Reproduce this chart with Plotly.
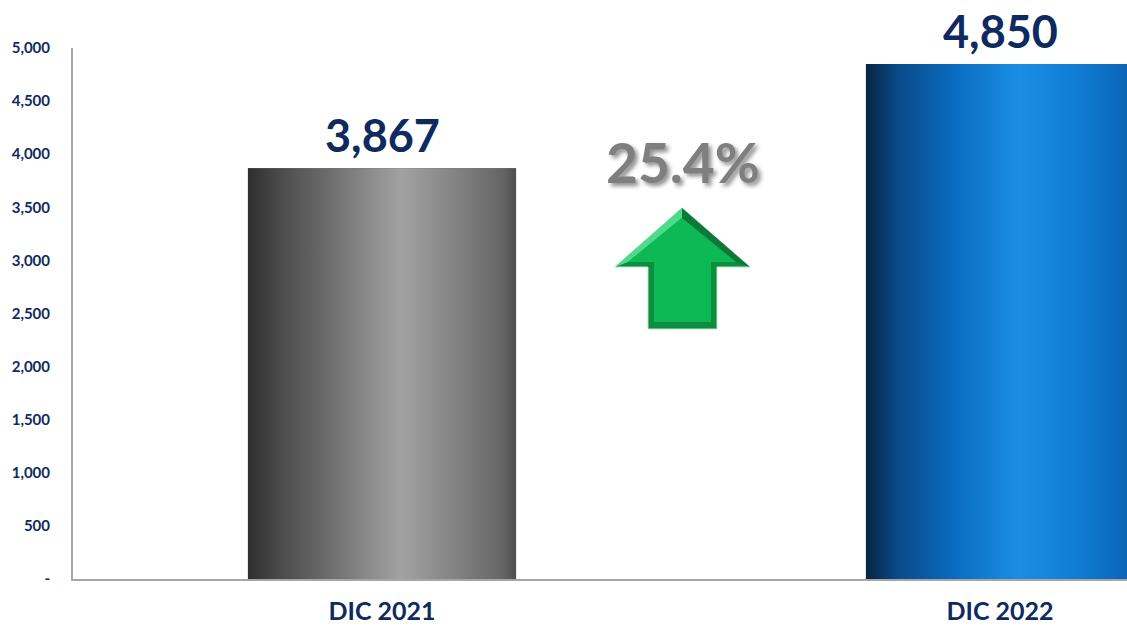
import plotly.graph_objects as go

# ---- data ----
categories = ["DIC 2021", "DIC 2022"]
values = [3867, 4850]
value_labels = ["3,867", "4,850"]
growth_label = "25.4%"
y_tickvals = [0, 500, 1000, 1500, 2000, 2500, 3000, 3500, 4000, 4500, 5000]
y_ticktext = ["-", "500", "1,000", "1,500", "2,000", "2,500", "3,000", "3,500", "4,000", "4,500", "5,000"]

# ---- style ----
W, H = 1127, 629
# plot area in window pixels: x 73..1127, y 48..579
PX0, PX1, PY0, PY1 = 73, 1127, 48, 579
ML, MT = PX0, PY0
MR = W - PX1
MB = H - PY1
NAVY = "#0f2a5f"
FONT = "Lato"
BAR_W = 0.434
x_pos = list(range(len(categories)))

grey_scale = [[0.0, "#2e2e2e"], [0.12, "#4b4b4b"], [0.35, "#767676"], [0.57, "#a2a2a2"],
              [0.78, "#828282"], [0.95, "#656565"], [1.0, "#4e4e4e"]]
blue_scale = [[0.0, "#082443"], [0.12, "#0a4a88"], [0.33, "#0a6cc0"], [0.57, "#1a8ee4"],
              [0.75, "#1180d6"], [1.0, "#0a63b4"]]
scales = [grey_scale, blue_scale]

fig = go.Figure()

# real bar trace (data carrier)
fig.add_trace(go.Bar(x=x_pos, y=values, width=BAR_W, marker_color=["#777777", "#0a6cc0"],
                     marker_line_width=0, hoverinfo="x+y", showlegend=False))

# gradient overlays, shaped from the same data
for i, (xc, v) in enumerate(zip(x_pos, values)):
    xl, xr = xc - BAR_W / 2, xc + BAR_W / 2
    fig.add_trace(go.Scatter(
        x=[xl, xl, xr, xr, xl], y=[0, v, v, 0, 0],
        mode="lines", line=dict(width=0), fill="toself",
        fillgradient=dict(type="horizontal", colorscale=scales[i]),
        hoverinfo="skip", showlegend=False))

# value labels
for xc, v, t in zip(x_pos, values, value_labels):
    fig.add_annotation(x=xc, y=v, text=t, showarrow=False, yanchor="bottom", yshift=4,
                       font=dict(family=FONT, size=45, color=NAVY, weight="bold"))


def to_paper(px, py):
    return (px - PX0) / (PX1 - PX0), (PY1 - py) / (PY1 - PY0)


# growth label
gx, gy = to_paper(683, 162)
fig.add_annotation(x=gx, y=gy, xref="paper", yref="paper", xanchor="center", yanchor="middle",
                   text=growth_label, showarrow=False,
                   font=dict(family=FONT, size=55, color="#7f7f7f", weight="bold",
                             shadow="3px 3px 4px rgba(0,0,0,0.45)"))


def path(points):
    pts = [to_paper(*p) for p in points]
    return "M " + " L ".join(f"{x:.5f},{y:.5f}" for x, y in pts) + " Z"


outer = [(682, 208), (750, 267), (717, 267), (717, 329), (648, 329), (648, 267), (615, 267)]
inner = [(682, 218), (736, 262), (711, 262), (711, 322), (654, 322), (654, 262), (628, 262)]
hl = [(682, 208), (682, 218), (628, 262), (615, 267)]
dk = [(682, 208), (750, 267), (736, 262), (682, 218)]
fig.add_shape(type="path", path=path(outer), xref="paper", yref="paper",
              fillcolor="#0a8f40", line=dict(color="#b9e3c6", width=1))
fig.add_shape(type="path", path=path(dk), xref="paper", yref="paper",
              fillcolor="#0a7a36", line=dict(width=0))
fig.add_shape(type="path", path=path(hl), xref="paper", yref="paper",
              fillcolor="#4fd98b", line=dict(width=0))
fig.add_shape(type="path", path=path(inner), xref="paper", yref="paper",
              fillcolor="#0cb955", line=dict(width=0))

fig.update_layout(
    width=W, height=H,
    margin=dict(l=ML, r=MR, t=MT, b=MB, pad=0, autoexpand=False),
    paper_bgcolor="white", plot_bgcolor="white",
    bargap=0, showlegend=False,
    xaxis=dict(range=[-0.5, 1.2055], tickvals=x_pos, ticktext=categories,
               showgrid=False, zeroline=False, showline=True, linecolor="#a6a6a6",
               linewidth=2, ticks="", ticklabelstandoff=9, automargin=False,
               tickfont=dict(family=FONT, size=25, color=NAVY, weight="bold")),
    yaxis=dict(range=[0, 5000], tickvals=y_tickvals, ticktext=y_ticktext,
               showgrid=False, zeroline=False, showline=True, linecolor="#a6a6a6",
               linewidth=2, ticks="", ticklabelstandoff=18, automargin=False,
               tickfont=dict(family=FONT, size=15, color=NAVY, weight="bold")),
)

# remove the browser's default 8px body margin so the figure fills the window exactly
fig.write_html("out.html", config={"displayModeBar": False},
               post_script="document.body.style.margin='0';document.body.style.overflow='hidden';")
